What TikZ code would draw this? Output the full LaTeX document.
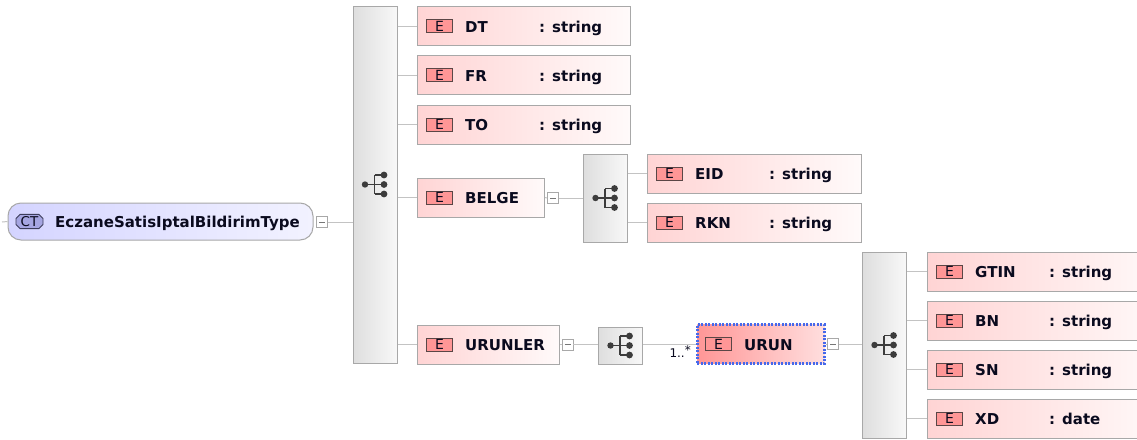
\documentclass[tikz,border=0pt]{standalone}
\usepackage{fontspec}
\setmainfont{DejaVu Sans}
\usetikzlibrary{shapes.misc,calc}
\definecolor{boxborder}{RGB}{168,168,168}
\definecolor{connc}{RGB}{195,195,195}
\definecolor{elL}{RGB}{255,212,212}
\definecolor{elR}{RGB}{255,250,250}
\definecolor{urL}{RGB}{255,150,150}
\definecolor{urR}{RGB}{255,222,222}
\definecolor{dashblue}{RGB}{70,105,235}
\definecolor{badgefill}{RGB}{255,150,150}
\definecolor{badgeborder}{RGB}{90,70,70}
\definecolor{ctL}{RGB}{212,212,255}
\definecolor{ctR}{RGB}{242,242,255}
\definecolor{ctbadge}{RGB}{165,165,225}
\definecolor{ctbadgeborder}{RGB}{60,60,90}
\definecolor{seqL}{RGB}{222,222,222}
\definecolor{seqR}{RGB}{248,248,248}
\definecolor{iconc}{RGB}{60,60,60}
\definecolor{txt}{RGB}{10,10,30}
\newcommand\elm[6]{%
  \node[elbox, minimum width=#4, anchor=west] (#1) at (#2,#3) {};
  \node[badge, anchor=west] (#1-b) at ($(#1.west)+(9,0)$) {E};
  \node[elname, anchor=base west] (#1-n) at ($(#1.west)+(48,6)$) {#5};
  \node[elname, anchor=base west] (#1-t) at ($(#1.west)+(122,6)$) {: #6};
}
\newcommand\elmc[6]{%
  \node[elbox, minimum width=#4, anchor=west, #6] (#1) at (#2,#3) {};
  \node[badge, anchor=west] (#1-b) at ($(#1.west)+(9,0)$) {E};
  \node[elname, anchor=base west] (#1-n) at ($(#1.west)+(48,6)$) {#5};
}
\newcommand\seqicon[1]{%
  \begin{scope}[shift={(#1.center)}]
    \draw[iconc, line width=1.3pt] (-10,0) -- (-0.5,0)
      (-0.5,-9.5) -- (-0.5,9.5)
      (-0.5,-9.5) -- (9,-9.5) (-0.5,9.5) -- (9,9.5) (-0.5,0) -- (9,0);
    \fill[iconc] (-10,0) circle (3.2) (9,-9.5) circle (3.4) (9,0) circle (3.4) (9,9.5) circle (3.4);
  \end{scope}}
\newcommand\minusbox[3]{%
  \node[minusbx] (#1) at (#2,#3) {};
  \draw[iconc!70, line width=0.8pt] ($(#1.center)+(-3,0)$) -- ($(#1.center)+(3,0)$);}
\begin{document}
\begin{tikzpicture}[x=1pt,y=-1pt,
  elbox/.style={draw=boxborder, line width=1pt, left color=elL, right color=elR, minimum height=39, inner sep=0},
  badge/.style={draw=badgeborder, line width=0.9pt, fill=badgefill, minimum width=26, minimum height=13, inner sep=0, font=\fontsize{14}{14}\selectfont, text=txt},
  elname/.style={inner sep=0, font=\fontsize{15}{17}\selectfont\bfseries, text=txt},
  seqbox/.style={draw=boxborder, line width=1pt, left color=seqL, right color=seqR, minimum width=44, inner sep=0},
  minusbx/.style={draw=boxborder, line width=0.8pt, fill=white, minimum size=11, inner sep=0},
  conn/.style={draw=connc, line width=1pt},
  urun/.style={left color=urL, right color=urR, draw=dashblue, line width=2.5pt, dash pattern=on 2pt off 1.5pt},
]
\clip (0,0) rectangle (1137,439);
\fill[white] (0,0) rectangle (1137,439);

% root complex type
\node[draw=boxborder, line width=1pt, left color=ctL, right color=ctR, rounded corners=13, minimum width=305, minimum height=37, inner sep=0] (ct) at (160.5,221.5) {};
\node[chamfered rectangle, chamfered rectangle xsep=2pt, chamfered rectangle ysep=2pt, chamfered rectangle corners={north west,south west,north east,south east}, draw=ctbadgeborder, line width=0.9pt, fill=ctbadge, minimum width=27, minimum height=13, inner sep=0, font=\fontsize{13.5}{13.5}\selectfont, text=txt] (ctb) at (29.5,221.5) {CT};
\node[elname, anchor=base west] (ctn) at (55,227.5) {EczaneSatisIptalBildirimType};
\coordinate (lt) at (2,222);
\draw[conn] (lt) -- (ct.west);
\minusbox{m1}{322}{222}

% main sequence
\node[seqbox, minimum height=357] (seq1) at (375,184.5) {};
\seqicon{seq1}
\draw[conn] (m1.east) -- (m1.east -| seq1.west);

\elm{DT}{417}{26}{213}{DT}{string}
\elm{FR}{417}{75}{213}{FR}{string}
\elm{TO}{417}{124.5}{213}{TO}{string}
\elmc{BELGE}{417}{197.5}{127}{BELGE}{}
\elmc{URUNLER}{417}{344.5}{142}{URUNLER}{}
\foreach \c in {DT,FR,TO,BELGE,URUNLER}{\draw[conn] (\c.west -| seq1.east) -- (\c.west);}

% BELGE
\minusbox{m2}{553}{198}
\node[seqbox, minimum height=88] (seq2) at (605.5,198) {};
\seqicon{seq2}
\draw[conn] (BELGE.east) -- (m2.west);
\draw[conn] (m2.east) -- (m2.east -| seq2.west);
\elm{EID}{647}{173.5}{214}{EID}{string}
\elm{RKN}{647}{222.5}{214}{RKN}{string}
\foreach \c in {EID,RKN}{\draw[conn] (\c.west -| seq2.east) -- (\c.west);}

% URUNLER
\minusbox{m3}{567.5}{344.5}
\node[seqbox, minimum height=37] (seq3) at (620.5,345.5) {};
\seqicon{seq3}
\draw[conn] (URUNLER.east) -- (m3.west);
\draw[conn] (m3.east) -- (m3.east -| seq3.west);
\elmc{URUN}{696}{344}{127}{URUN}{urun}
\draw[conn] (URUN.west -| seq3.east) -- (URUN.west);
\node[anchor=base east, inner sep=0, font=\fontsize{12}{13}\selectfont, text=txt] (card) at (691,357) {1..\raisebox{3pt}{*}};

% URUN
\minusbox{m4}{833}{344}
\node[seqbox, minimum height=186] (seq4) at (884.5,345) {};
\seqicon{seq4}
\draw[conn] (URUN.east) -- (m4.west);
\draw[conn] (m4.east) -- (m4.east -| seq4.west);
\elm{GTIN}{927}{271.5}{240}{GTIN}{string}
\elm{BN}{927}{320.5}{240}{BN}{string}
\elm{SN}{927}{369.5}{240}{SN}{string}
\elm{XD}{927}{418.5}{240}{XD}{date}
\foreach \c in {GTIN,BN,SN,XD}{\draw[conn] (\c.west -| seq4.east) -- (\c.west);}
\end{tikzpicture}
\end{document}
